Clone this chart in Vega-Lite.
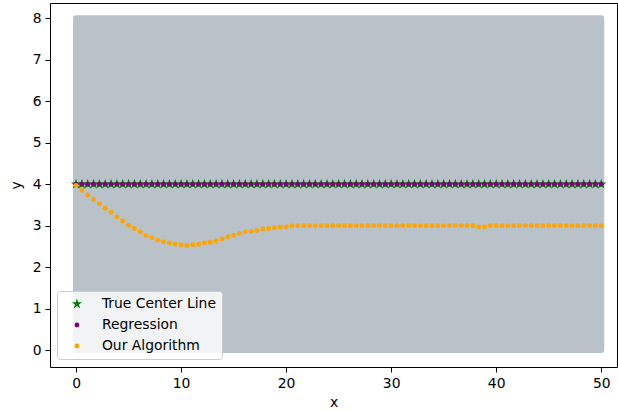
{
  "$schema": "https://vega.github.io/schema/vega-lite/v6.json",
  "width": 567,
  "height": 364,
  "autosize": "none",
  "padding": {"left": 50, "top": 3, "right": 1, "bottom": 45},
  "background": "white",
  "config": {
    "view": {"stroke": "#000000", "strokeWidth": 1},
    "font": "DejaVu Sans",
    "axis": {
      "domain": false,
      "grid": false,
      "tickColor": "#000000",
      "tickSize": 5,
      "tickWidth": 1,
      "labelFont": "DejaVu Sans",
      "labelFontSize": 13.9,
      "labelColor": "#000000",
      "labelPadding": 4,
      "titleFont": "DejaVu Sans",
      "titleFontSize": 13.9,
      "titleFontWeight": "normal",
      "titleColor": "#000000"
    }
  },
  "layer": [
    {
      "data": {"values": [{"x0": 0, "x1": 50, "y0": 0, "y1": 8}]},
      "mark": {"type": "rect", "color": "#b9c1c9", "stroke": "#b9c1c9", "strokeWidth": 6, "strokeJoin": "round"},
      "encoding": {
        "x": {"field": "x0", "type": "quantitative", "scale": {"domain": [-2.48, 51.5], "nice": false, "zero": false}},
        "x2": {"field": "x1"},
        "y": {"field": "y0", "type": "quantitative", "scale": {"domain": [-0.41, 8.37], "nice": false, "zero": false}},
        "y2": {"field": "y1"}
      }
    },
    {
      "data": {"values": [
        {"x": 0, "t": 4, "r": 4, "a": 3.97},
        {"x": 0.556, "t": 4, "r": 4, "a": 3.85},
        {"x": 1.111, "t": 4, "r": 4, "a": 3.74},
        {"x": 1.667, "t": 4, "r": 4, "a": 3.63},
        {"x": 2.222, "t": 4, "r": 4, "a": 3.52},
        {"x": 2.778, "t": 4, "r": 4, "a": 3.42},
        {"x": 3.333, "t": 4, "r": 4, "a": 3.32},
        {"x": 3.889, "t": 4, "r": 4, "a": 3.21},
        {"x": 4.444, "t": 4, "r": 4, "a": 3.11},
        {"x": 5, "t": 4, "r": 4, "a": 3.01},
        {"x": 5.556, "t": 4, "r": 4, "a": 2.93},
        {"x": 6.111, "t": 4, "r": 4, "a": 2.85},
        {"x": 6.667, "t": 4, "r": 4, "a": 2.76},
        {"x": 7.222, "t": 4, "r": 4, "a": 2.71},
        {"x": 7.778, "t": 4, "r": 4, "a": 2.65},
        {"x": 8.333, "t": 4, "r": 4, "a": 2.61},
        {"x": 8.889, "t": 4, "r": 4, "a": 2.58},
        {"x": 9.444, "t": 4, "r": 4, "a": 2.55},
        {"x": 10, "t": 4, "r": 4, "a": 2.54},
        {"x": 10.556, "t": 4, "r": 4, "a": 2.52},
        {"x": 11.111, "t": 4, "r": 4, "a": 2.54},
        {"x": 11.667, "t": 4, "r": 4, "a": 2.55},
        {"x": 12.222, "t": 4, "r": 4, "a": 2.58},
        {"x": 12.778, "t": 4, "r": 4, "a": 2.6},
        {"x": 13.333, "t": 4, "r": 4, "a": 2.63},
        {"x": 13.889, "t": 4, "r": 4, "a": 2.68},
        {"x": 14.444, "t": 4, "r": 4, "a": 2.73},
        {"x": 15, "t": 4, "r": 4, "a": 2.77},
        {"x": 15.556, "t": 4, "r": 4, "a": 2.81},
        {"x": 16.111, "t": 4, "r": 4, "a": 2.85},
        {"x": 16.667, "t": 4, "r": 4, "a": 2.86},
        {"x": 17.222, "t": 4, "r": 4, "a": 2.88},
        {"x": 17.778, "t": 4, "r": 4, "a": 2.92},
        {"x": 18.333, "t": 4, "r": 4, "a": 2.93},
        {"x": 18.889, "t": 4, "r": 4, "a": 2.95},
        {"x": 19.444, "t": 4, "r": 4, "a": 2.96},
        {"x": 20, "t": 4, "r": 4, "a": 2.97},
        {"x": 20.556, "t": 4, "r": 4, "a": 2.99},
        {"x": 21.111, "t": 4, "r": 4, "a": 3.0},
        {"x": 21.667, "t": 4, "r": 4, "a": 3.0},
        {"x": 22.222, "t": 4, "r": 4, "a": 3.0},
        {"x": 22.778, "t": 4, "r": 4, "a": 3.0},
        {"x": 23.333, "t": 4, "r": 4, "a": 3.0},
        {"x": 23.889, "t": 4, "r": 4, "a": 3.0},
        {"x": 24.444, "t": 4, "r": 4, "a": 3.0},
        {"x": 25, "t": 4, "r": 4, "a": 3.0},
        {"x": 25.556, "t": 4, "r": 4, "a": 3.0},
        {"x": 26.111, "t": 4, "r": 4, "a": 3.0},
        {"x": 26.667, "t": 4, "r": 4, "a": 3.0},
        {"x": 27.222, "t": 4, "r": 4, "a": 3.0},
        {"x": 27.778, "t": 4, "r": 4, "a": 3.0},
        {"x": 28.333, "t": 4, "r": 4, "a": 3.0},
        {"x": 28.889, "t": 4, "r": 4, "a": 3.0},
        {"x": 29.444, "t": 4, "r": 4, "a": 3.0},
        {"x": 30, "t": 4, "r": 4, "a": 3.0},
        {"x": 30.556, "t": 4, "r": 4, "a": 3.0},
        {"x": 31.111, "t": 4, "r": 4, "a": 3.0},
        {"x": 31.667, "t": 4, "r": 4, "a": 3.0},
        {"x": 32.222, "t": 4, "r": 4, "a": 3.0},
        {"x": 32.778, "t": 4, "r": 4, "a": 3.0},
        {"x": 33.333, "t": 4, "r": 4, "a": 3.0},
        {"x": 33.889, "t": 4, "r": 4, "a": 3.0},
        {"x": 34.444, "t": 4, "r": 4, "a": 3.0},
        {"x": 35, "t": 4, "r": 4, "a": 3.0},
        {"x": 35.556, "t": 4, "r": 4, "a": 3.0},
        {"x": 36.111, "t": 4, "r": 4, "a": 3.0},
        {"x": 36.667, "t": 4, "r": 4, "a": 3.0},
        {"x": 37.222, "t": 4, "r": 4, "a": 3.0},
        {"x": 37.778, "t": 4, "r": 4, "a": 3.0},
        {"x": 38.333, "t": 4, "r": 4, "a": 2.97},
        {"x": 38.889, "t": 4, "r": 4, "a": 2.97},
        {"x": 39.444, "t": 4, "r": 4, "a": 3.0},
        {"x": 40, "t": 4, "r": 4, "a": 3.0},
        {"x": 40.556, "t": 4, "r": 4, "a": 3.0},
        {"x": 41.111, "t": 4, "r": 4, "a": 3.0},
        {"x": 41.667, "t": 4, "r": 4, "a": 3.0},
        {"x": 42.222, "t": 4, "r": 4, "a": 3.0},
        {"x": 42.778, "t": 4, "r": 4, "a": 3.0},
        {"x": 43.333, "t": 4, "r": 4, "a": 3.0},
        {"x": 43.889, "t": 4, "r": 4, "a": 3.0},
        {"x": 44.444, "t": 4, "r": 4, "a": 3.0},
        {"x": 45, "t": 4, "r": 4, "a": 3.0},
        {"x": 45.556, "t": 4, "r": 4, "a": 3.0},
        {"x": 46.111, "t": 4, "r": 4, "a": 3.0},
        {"x": 46.667, "t": 4, "r": 4, "a": 3.0},
        {"x": 47.222, "t": 4, "r": 4, "a": 3.0},
        {"x": 47.778, "t": 4, "r": 4, "a": 3.0},
        {"x": 48.333, "t": 4, "r": 4, "a": 3.0},
        {"x": 48.889, "t": 4, "r": 4, "a": 3.0},
        {"x": 49.444, "t": 4, "r": 4, "a": 3.0},
        {"x": 50, "t": 4, "r": 4, "a": 3.0}
      ]},
      "transform": [
        {"fold": ["t", "r", "a"], "as": ["series", "y"]}
      ],
      "mark": {"type": "point", "filled": true, "opacity": 1},
      "encoding": {
        "x": {"field": "x", "type": "quantitative", "axis": {"values": [0, 10, 20, 30, 40, 50], "title": "x", "titlePadding": 6}},
        "y": {"field": "y", "type": "quantitative", "axis": {"values": [0, 1, 2, 3, 4, 5, 6, 7, 8], "title": "y", "titlePadding": 9}},
        "color": {
          "field": "series", "type": "nominal",
          "scale": {"domain": ["t", "r", "a"], "range": ["#008000", "#800080", "#ffa500"]},
          "legend": {
            "title": null,
            "orient": "none",
            "legendX": 7,
            "legendY": 288,
            "labelExpr": "datum.value == 't' ? 'True Center Line' : datum.value == 'r' ? 'Regression' : 'Our Algorithm'",
            "labelFont": "DejaVu Sans",
            "labelFontSize": 13.9,
            "labelColor": "#000000",
            "padding": 6,
            "rowPadding": 6,
            "symbolOffset": 7,
            "labelOffset": 18,
            "fillColor": "rgba(255,255,255,0.8)",
            "strokeColor": "#cccccc",
            "cornerRadius": 3
          }
        },
        "shape": {
          "field": "series", "type": "nominal",
          "scale": {"domain": ["t", "r", "a"], "range": ["M0,-1L0.2233,-0.3074L0.9511,-0.309L0.3614,0.1174L0.5878,0.809L0,0.38L-0.5878,0.809L-0.3614,0.1174L-0.9511,-0.309L-0.2233,-0.3074Z", "circle", "circle"]}
        },
        "size": {
          "field": "series", "type": "nominal",
          "scale": {"type": "ordinal", "domain": ["t", "r", "a"], "range": [120, 24, 24]}
        }
      }
    }
  ]
}
